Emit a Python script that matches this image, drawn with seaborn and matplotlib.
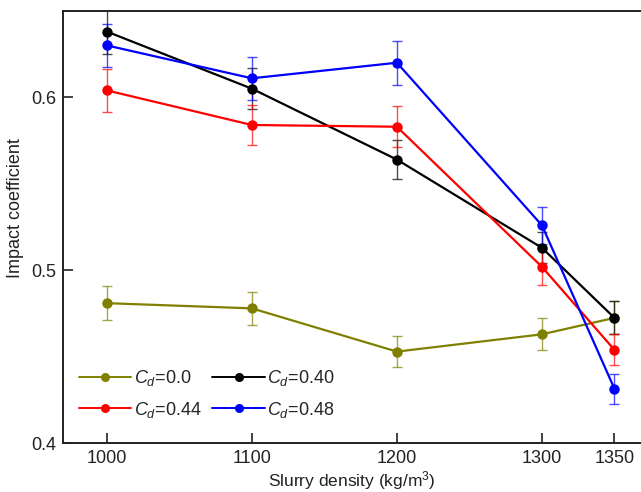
import matplotlib
matplotlib.use("Agg")
import matplotlib.pyplot as plt
import seaborn as sns
import pandas as pd
import numpy as np

density = [1000, 1100, 1200, 1300, 1350]
labels = ["$C_d$=0.0", "$C_d$=0.40", "$C_d$=0.44", "$C_d$=0.48"]
cd_00 = [0.481, 0.478, 0.453, 0.463, 0.4725]
cd_40 = [0.638, 0.605, 0.564, 0.513, 0.4725]
cd_44 = [0.604, 0.584, 0.583, 0.502, 0.454]
cd_48 = [0.630, 0.611, 0.620, 0.526, 0.4315]
err_00 = [0.0097, 0.0095, 0.009, 0.0093, 0.0095]
err_40 = [0.013, 0.012, 0.0115, 0.009, 0.0095]
err_44 = [0.0124, 0.0118, 0.0118, 0.0105, 0.009]
err_48 = [0.0125, 0.0123, 0.0127, 0.0107, 0.0085]
colors = ["#808000", "#000000", "#ff0000", "#0000ff"]

series = [cd_00, cd_40, cd_44, cd_48]
errs = [err_00, err_40, err_44, err_48]

rows = []
for lab, vals, es in zip(labels, series, errs):
    for x, v, e in zip(density, vals, es):
        rows.append({"density": x, "coef": v, "err": e, "case": lab})
df = pd.DataFrame(rows)

sns.set_style("ticks")
plt.rcParams["font.family"] = ["Liberation Sans", "DejaVu Sans"]
plt.rcParams["mathtext.fontset"] = "custom"
plt.rcParams["mathtext.rm"] = "Liberation Sans"
plt.rcParams["mathtext.it"] = "Liberation Sans:italic"

FS = 13
fig = plt.figure(figsize=(6.41, 4.92), dpi=100)
ax = fig.add_axes([0.0988, 0.099, 0.9012, 0.879])

palette = dict(zip(labels, colors))
for lab, vals, es, c in zip(labels, series, errs, colors):
    ax.errorbar(density, vals, yerr=es, fmt="none", ecolor=c, elinewidth=1.0,
                capsize=3.5, capthick=1.0, alpha=0.7, zorder=2)

sns.lineplot(data=df, x="density", y="coef", hue="case", hue_order=labels,
             palette=palette, marker="o", markersize=7.5, markeredgewidth=0,
             linewidth=1.6, ax=ax, zorder=3, legend=True)

ax.set_xlim(970, 1368.3)
ax.set_ylim(0.4, 0.65)
ax.set_xticks(density)
ax.set_xticklabels([str(d) for d in density])
ax.set_yticks([0.4, 0.5, 0.6])
ax.set_yticklabels(["0.4", "0.5", "0.6"])
ax.tick_params(direction="in", length=7, width=1.2, labelsize=FS, pad=5,
               colors="#222222", labelcolor="#222222")
ax.spines["right"].set_visible(False)
for s in ["left", "bottom", "top"]:
    ax.spines[s].set_linewidth(1.4)
    ax.spines[s].set_color("#222222")

ax.set_xlabel("Slurry density (kg/m$^3$)", fontsize=12.5, color="#222222", labelpad=1)
ax.set_ylabel("Impact coefficient", fontsize=FS, color="#222222")
ax.yaxis.set_label_coords(-0.068, 0.544)

handles, labs = ax.get_legend_handles_labels()
hmap = dict(zip(labs, handles))
order = [labels[0], labels[2], labels[1], labels[3]]
leg = ax.legend([hmap[l] for l in order], order, ncol=2, frameon=False,
                fontsize=FS, loc="lower left", bbox_to_anchor=(0.027, 0.055),
                borderpad=0, borderaxespad=0,
                handlelength=2.9, handletextpad=0.15, columnspacing=0.6,
                labelspacing=0.62)
for h in leg.legend_handles:
    h.set_markersize(6.5)
    h.set_linewidth(1.4)

fig.savefig("out.png", dpi=100)
